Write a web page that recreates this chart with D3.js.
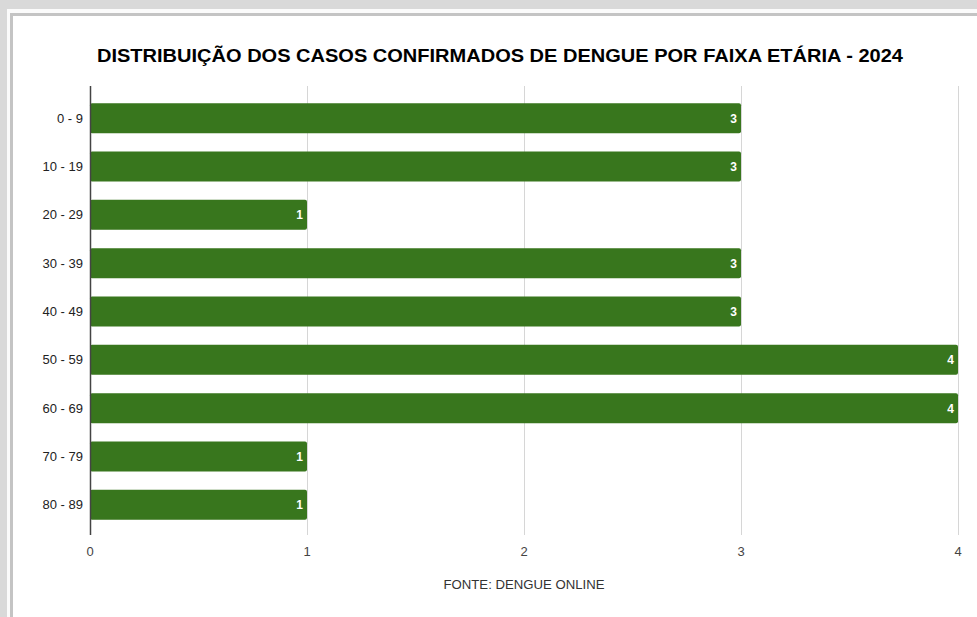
<!DOCTYPE html>
<html>
<head>
<meta charset="utf-8">
<script src="https://cdn.jsdelivr.net/npm/d3@7"></script>
<style>
  body { margin: 0; background: #d9d9d9; }
  svg { display: block; font-family: Arial, "Liberation Sans", sans-serif; }
</style>
</head>
<body>
<div id="chart-area"></div>
<script>
    var faixas = ['0 - 9', '10 - 19', '20 - 29', '30 - 39', '40 - 49', '50 - 59', '60 - 69', '70 - 79', '80 - 89'];
    var casos = [3, 3, 1, 3, 3, 4, 4, 1, 1];
    var xTicks = [0, 1, 2, 3, 4];
    var titulo = 'DISTRIBUIÇÃO DOS CASOS CONFIRMADOS DE DENGUE POR FAIXA ETÁRIA - 2024';
    var fonte = 'FONTE: DENGUE ONLINE';

    var W = 977, H = 617;
    var plot = { left: 90, right: 958, top: 86, bottom: 535 };

    var svg = d3.select('#chart-area')
        .append('svg')
        .attr('width', W)
        .attr('height', H);

    // screenshot frame
    svg.append('rect').attr('width', W).attr('height', H).attr('fill', '#d9d9d9');
    svg.append('rect').attr('x', 7).attr('y', 9).attr('width', W - 7).attr('height', H - 9).attr('fill', '#fbfbfb');
    svg.append('rect').attr('x', 10).attr('y', 13).attr('width', W - 10).attr('height', H - 13).attr('fill', '#c4c4c4');
    svg.append('rect').attr('x', 13).attr('y', 16).attr('width', W - 13).attr('height', H - 16).attr('fill', '#ffffff');

    var xScale = d3.scaleLinear()
        .domain([0, 4])
        .range([plot.left, plot.right]);

    var yScale = d3.scaleBand()
        .domain(faixas)
        .range([94, 529])
        .paddingInner(0.38)
        .paddingOuter(0.19);

    svg.append('text')
        .attr('x', 500)
        .attr('y', 62)
        .attr('text-anchor', 'middle')
        .attr('font-size', '18px')
        .attr('font-weight', 'bold')
        .attr('fill', '#000')
        .attr('textLength', 806)
        .attr('lengthAdjust', 'spacingAndGlyphs')
        .text(titulo);

    // gridlines
    svg.append('g')
        .selectAll('line')
        .data(xTicks.slice(1))
        .enter()
        .append('line')
        .attr('x1', (d) => xScale(d) + 0.5)
        .attr('x2', (d) => xScale(d) + 0.5)
        .attr('y1', plot.top)
        .attr('y2', plot.bottom)
        .attr('stroke', '#d6d6d6')
        .attr('stroke-width', 1);

    // bars
    svg.append('g')
        .selectAll('rect')
        .data(casos)
        .enter()
        .append('rect')
        .attr('x', xScale(0))
        .attr('y', (d, i) => yScale(faixas[i]))
        .attr('width', (d) => xScale(d) - xScale(0))
        .attr('height', yScale.bandwidth())
        .attr('rx', 2)
        .attr('fill', '#38761d');

    // value labels
    svg.append('g')
        .selectAll('text')
        .data(casos)
        .enter()
        .append('text')
        .attr('x', (d) => xScale(d) - 4)
        .attr('y', (d, i) => yScale(faixas[i]) + yScale.bandwidth() / 2 + 4.5)
        .attr('text-anchor', 'end')
        .attr('font-size', '12px')
        .attr('font-weight', 'bold')
        .attr('fill', '#ffffff')
        .text((d) => d);

    // baseline
    svg.append('line')
        .attr('x1', plot.left + 0.5)
        .attr('x2', plot.left + 0.5)
        .attr('y1', plot.top)
        .attr('y2', plot.bottom)
        .attr('stroke', '#444')
        .attr('stroke-width', 1.5);

    // y labels
    svg.append('g')
        .selectAll('text')
        .data(faixas)
        .enter()
        .append('text')
        .attr('x', 83)
        .attr('y', (d) => yScale(d) + yScale.bandwidth() / 2 + 4.5)
        .attr('text-anchor', 'end')
        .attr('font-size', '13px')
        .attr('fill', '#222')
        .text((d) => d);

    // x labels
    svg.append('g')
        .selectAll('text')
        .data(xTicks)
        .enter()
        .append('text')
        .attr('x', (d) => xScale(d))
        .attr('y', 556)
        .attr('text-anchor', 'middle')
        .attr('font-size', '13px')
        .attr('fill', '#444')
        .text((d) => d);

    svg.append('text')
        .attr('x', 524)
        .attr('y', 589)
        .attr('text-anchor', 'middle')
        .attr('font-size', '13px')
        .attr('fill', '#333')
        .attr('textLength', 161)
        .attr('lengthAdjust', 'spacingAndGlyphs')
        .text(fonte);
</script>
</body>
</html>
